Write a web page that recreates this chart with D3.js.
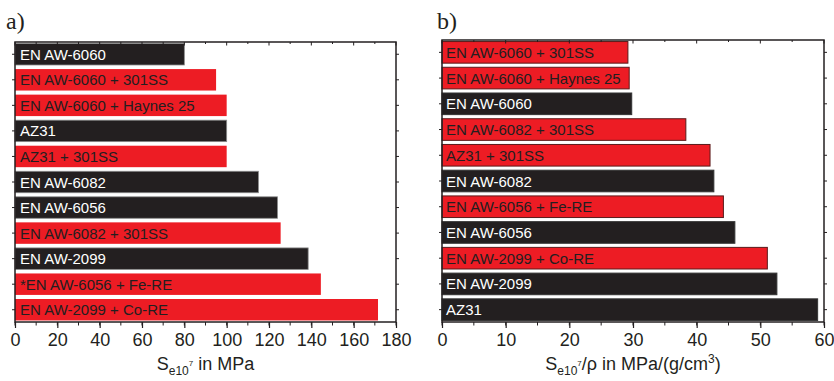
<!DOCTYPE html>
<html>
<head>
<meta charset="utf-8">
<script src="https://cdn.jsdelivr.net/npm/d3@7"></script>
<style>
  body { margin: 0; background: #fff; }
  svg text { font-family: "Liberation Sans", Arial, sans-serif; }
</style>
</head>
<body>
<svg id="chart" width="834" height="381"></svg>
<script>
/** data, top bar first */
let labelsA = ["EN AW-6060", "EN AW-6060 + 301SS", "EN AW-6060 + Haynes 25", "AZ31", "AZ31 + 301SS",
               "EN AW-6082", "EN AW-6056", "EN AW-6082 + 301SS", "EN AW-2099", "*EN AW-6056 + Fe-RE",
               "EN AW-2099 + Co-RE"];
let valuesA = [80, 95, 100, 100, 100, 115, 124, 125.5, 138.5, 144.5, 171.5];

let labelsB = ["EN AW-6060 + 301SS", "EN AW-6060 + Haynes 25", "EN AW-6060", "EN AW-6082 + 301SS",
               "AZ31 + 301SS", "EN AW-6082", "EN AW-6056 + Fe-RE", "EN AW-6056", "EN AW-2099 + Co-RE",
               "EN AW-2099", "AZ31"];
let valuesB = [29.2, 29.4, 29.8, 38.3, 42.1, 42.7, 44.2, 46.0, 51.1, 52.6, 59.0];

let ticksA = d3.range(0, 181, 20);
let ticksB = d3.range(0, 61, 10);

let red = '#ed1c24', dark = '#231f20';
let svg = d3.select('#chart');

/** one panel: box, bars, labels, axes */
function drawPanel(opt) {
  let x = d3.scaleLinear().domain(opt.domain).range([opt.left, opt.right]);
  let y = d3.scaleBand().domain(opt.labels).range([opt.top, opt.bottom])
            .paddingInner(0.16).paddingOuter(0.06);
  let g = svg.append('g');
  let data = opt.labels.map((l, i) => ({ key: l, value: opt.values[i], coated: l.indexOf(' + ') >= 0 }));

  g.selectAll('.bar').data(data).enter().append('rect')
    .attr('class', 'bar')
    .attr('x', x(0))
    .attr('y', d => y(d.key))
    .attr('width', d => x(d.value) - x(0))
    .attr('height', y.bandwidth())
    .attr('fill', d => d.coated ? red : dark)
    .attr('stroke', d => opt.outline ? (d.coated ? '#5a1a1a' : '#333') : (d.coated ? 'none' : '#8a8a8a'))
    .attr('stroke-width', opt.outline ? 1 : 0.8);

  g.selectAll('.lbl').data(data).enter().append('text')
    .attr('x', x(0) + opt.textPad)
    .attr('y', d => y(d.key) + y.bandwidth() / 2 + 5.5)
    .style('font-size', '15px')
    .attr('fill', d => d.coated ? dark : '#fff')
    .text(d => d.key);

  // bottom axis with minor ticks
  let minor = d3.range(opt.domain[0], opt.domain[1] + 0.001, opt.minorStep);
  let bottom = g.append('g').attr('transform', `translate(0,${opt.bottom})`);
  bottom.call(d3.axisBottom(x).tickValues(opt.ticks).tickSize(6).tickPadding(5).tickSizeOuter(0));
  bottom.select('.domain').remove();
  bottom.selectAll('text').style('font-size', '18px').attr('fill', dark)
    .style('font-family', '"Liberation Sans", Arial, sans-serif');
  bottom.selectAll('line').attr('stroke', dark).attr('stroke-width', 1.2);
  bottom.selectAll('.minor').data(minor).enter().append('line')
    .attr('x1', d => x(d)).attr('x2', d => x(d)).attr('y1', 0).attr('y2', 3.5)
    .attr('stroke', dark).attr('stroke-width', 1);

  // top ticks pointing in
  g.selectAll('.ttick').data(minor).enter().append('line')
    .attr('x1', d => x(d)).attr('x2', d => x(d))
    .attr('y1', opt.top).attr('y2', d => opt.top + (opt.ticks.indexOf(d) >= 0 ? 3.5 : 2))
    .attr('stroke', dark).attr('stroke-width', 1);

  // category ticks on the left and right edges
  g.selectAll('.rtick').data(opt.labels).enter().append('line')
    .attr('x1', opt.right).attr('x2', opt.right + 3)
    .attr('y1', d => y(d) + y.bandwidth() / 2).attr('y2', d => y(d) + y.bandwidth() / 2)
    .attr('stroke', dark).attr('stroke-width', 1);
  g.selectAll('.ltick').data(opt.labels).enter().append('line')
    .attr('x1', opt.left - 3).attr('x2', opt.left)
    .attr('y1', d => y(d) + y.bandwidth() / 2).attr('y2', d => y(d) + y.bandwidth() / 2)
    .attr('stroke', dark).attr('stroke-width', 1);

  // frame
  g.append('rect')
    .attr('x', opt.left).attr('y', opt.top)
    .attr('width', opt.right - opt.left).attr('height', opt.bottom - opt.top)
    .attr('fill', 'none').attr('stroke', dark).attr('stroke-width', 1.5);

  // panel letter
  svg.append('text')
    .attr('x', opt.letterX).attr('y', 29)
    .style('font-family', '"Liberation Serif", "Times New Roman", serif')
    .style('font-size', '24px').attr('fill', dark)
    .text(opt.letter);

  // axis title
  let t = svg.append('text')
    .attr('x', (opt.left + opt.right) / 2).attr('y', 370)
    .attr('text-anchor', 'middle')
    .style('font-size', '18px').attr('fill', dark);
  t.append('tspan').text('S');
  t.append('tspan').attr('dy', 5).style('font-size', '12px').text('e10');
  t.append('tspan').attr('dy', -9).style('font-size', '8px').text('7');
  t.append('tspan').attr('dy', 4).text(opt.unit);
  if (opt.cube) {
    t.append('tspan').attr('dy', -7).style('font-size', '12px').text('3');
    t.append('tspan').attr('dy', 7).text(')');
  }
}

drawPanel({
  labels: labelsA, values: valuesA, domain: [0, 180], ticks: ticksA, minorStep: 10,
  left: 15, right: 396, top: 42, bottom: 322, textPad: 5, outline: false,
  letter: 'a)', letterX: 6, unit: ' in MPa', cube: false
});

drawPanel({
  labels: labelsB, values: valuesB, domain: [0, 60], ticks: ticksB, minorStep: 5,
  left: 442, right: 824, top: 40, bottom: 322, textPad: 4, outline: true,
  letter: 'b)', letterX: 437, unit: '/\u03c1 in MPa/(g/cm', cube: true
});
</script>
</body>
</html>
